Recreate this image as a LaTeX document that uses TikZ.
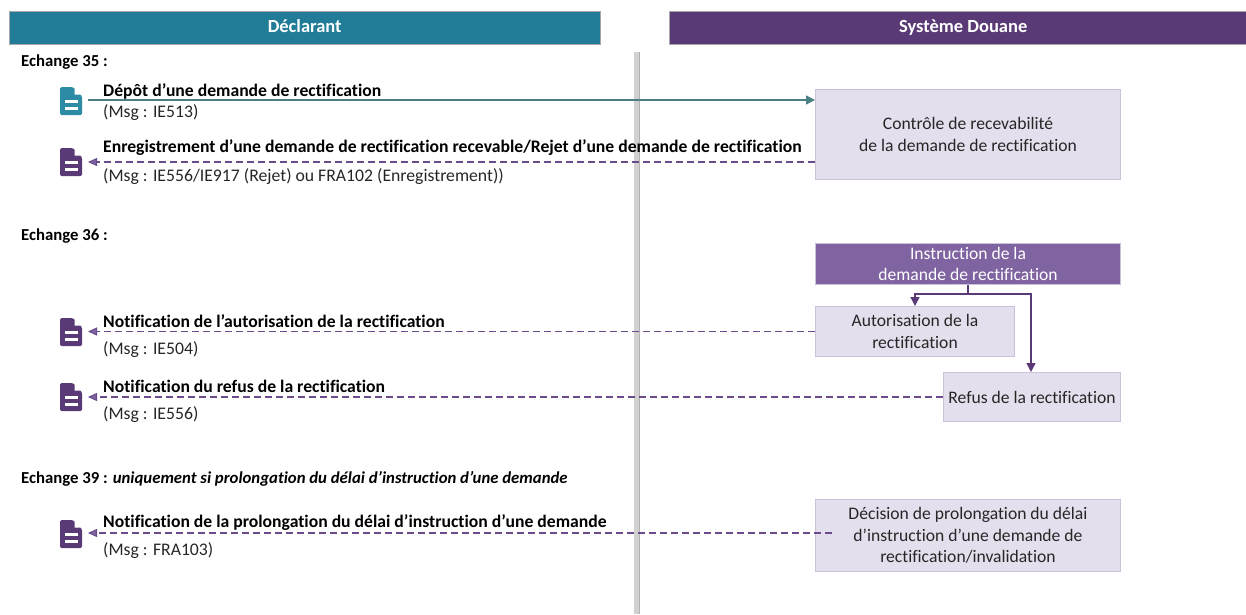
\documentclass[tikz,border=0pt]{standalone}
\usepackage{fontspec}
\setmainfont[Ligatures=NoCommon]{Carlito}
\usetikzlibrary{arrows.meta}
\definecolor{tealhead}{HTML}{217C98}
\definecolor{purplehead}{HTML}{5A3A76}
\definecolor{boxfill}{HTML}{E4DFEC}
\definecolor{boxline}{HTML}{CCC1DA}
\definecolor{instrfill}{HTML}{8064A2}
\definecolor{tealline}{HTML}{4A7F84}
\definecolor{dashline}{HTML}{6A4C8C}
\definecolor{iconteal}{HTML}{2E8BA6}
\newcommand{\docicon}[3]{%
  \fill [#3, rounded corners=1.5pt] (#1,#2) -- ++(13,0) -- ++(9,9) -- ++(0,19) -- ++(-22,0) -- cycle;
  \fill [white] (#1+14.5,#2+1) -- ++(0,6.5) -- ++(6.5,0) -- cycle;
  \fill [white] (#1+5,#2+13) rectangle ++(13,2.6);
  \fill [white] (#1+5,#2+20) rectangle ++(13,2.6);
}
\tikzset{
  headbox/.style={draw=black!35, line width=0.4pt, text=white, font=\fontsize{18.5}{20}\selectfont\bfseries, anchor=north west, inner sep=0pt, text height=12pt, text depth=3pt},
  sysbox/.style={draw=boxline, line width=1pt, fill=boxfill, align=center, anchor=north west, inner sep=0pt, font=\fontsize{17.6}{21.5}\selectfont, text=black!85},
  msgtitle/.style={anchor=west, inner sep=0pt, font=\fontsize{17.65}{20}\selectfont\bfseries},
  msgtext/.style={anchor=west, inner sep=0pt, font=\fontsize{17.7}{20}\selectfont, text=black!85},
  echange/.style={anchor=west, inner sep=0pt, font=\fontsize{16.75}{18}\selectfont\bfseries},
  sendline/.style={draw=tealline, line width=1.3pt, -{Triangle[length=9pt,width=9pt]}},
  backline/.style={draw=dashline, line width=1.1pt, dash pattern=on 7pt off 4pt, -{Triangle[length=9pt,width=8pt,fill=instrfill]}},
  flowline/.style={draw=purplehead, line width=1.3pt, -{Triangle[length=9pt,width=9pt]}}
}
\begin{document}
\begin{tikzpicture}[x=1pt,y=-1pt]
  \useasboundingbox (0,0) rectangle (1246,614);
  % bandeaux
  \node [headbox, fill=tealhead, minimum width=591pt, minimum height=33pt] (declarant) at (9,11) {Déclarant};
  \node [headbox, fill=purplehead, minimum width=577pt, minimum height=33pt] (douane) at (669,11) {\hspace*{11pt}Système Douane};
  \fill [black!18] (634,52) rectangle (640,614);
  \fill [black!30] (638.5,52) rectangle (640,614);
  % boites
  \node [sysbox, minimum width=305pt, minimum height=90pt] (recev) at (815,89) {Contrôle de recevabilité\\de la demande de rectification};
  \node [sysbox, fill=instrfill, text=white, minimum width=305pt, minimum height=41pt] (instr) at (815,243) {Instruction de la\\demande de rectification};
  \node [sysbox, minimum width=199pt, minimum height=50pt] (autor) at (815,306) {Autorisation de la\\rectification};
  \node [sysbox, minimum width=177pt, minimum height=49pt] (refus) at (943,372) {Refus de la rectification};
  \node [sysbox, minimum width=305pt, minimum height=72pt] (decis) at (815,499) {Décision de prolongation du délai\\d’instruction d’une demande de\\rectification/invalidation};
  % echange 35
  \node [echange] (ech35) at (21,62) {Echange 35 :};
  \docicon{60}{87}{iconteal}
  \docicon{60}{148}{purplehead}
  \coordinate (dep) at (88,100);
  \coordinate (enr) at (88,162);
  \draw [sendline] (dep) -- (dep -| recev.west);
  \draw [backline] (enr -| recev.west) -- (enr);
  \node [msgtitle] (t1) at (103,91) {Dépôt d’une demande de rectification};
  \node [msgtext] (m1) at (103,113) {(Msg : IE513)};
  \node [msgtitle] (t2) at (103,148) {Enregistrement d’une demande de rectification recevable/Rejet d’une demande de rectification};
  \node [msgtext] (m2) at (103,177) {(Msg : IE556/IE917 (Rejet) ou FRA102 (Enregistrement))};
  % echange 36
  \node [echange] (ech36) at (21,236) {Echange 36 :};
  \coordinate (split) at (968,294);
  \draw [draw=purplehead, line width=1.3pt] (split |- instr.south) -- (split);
  \draw [flowline] (split) -| (autor.north);
  \draw [flowline] (split) -| (1031,372);
  \docicon{60}{318}{purplehead}
  \docicon{60}{383}{purplehead}
  \coordinate (aut) at (88,331.5);
  \coordinate (ref) at (88,397);
  \draw [backline] (aut -| autor.west) -- (aut);
  \draw [backline] (refus.west) -- (ref);
  \node [msgtitle] (t3) at (103,321) {Notification de l’autorisation de la rectification};
  \node [msgtext] (m3) at (103,350) {(Msg : IE504)};
  \node [msgtitle] (t4) at (103,386) {Notification du refus de la rectification};
  \node [msgtext] (m4) at (103,415) {(Msg : IE556)};
  % echange 39
  \node [echange] (ech39) at (21,479) {Echange 39 : \textit{uniquement si prolongation du délai d’instruction d’une demande}};
  \docicon{60}{520}{purplehead}
  \coordinate (pro) at (88,533);
  \draw [backline] (832,533) -- (pro);
  \node [msgtitle] (t5) at (103,523) {Notification de la prolongation du délai d’instruction d’une demande};
  \node [msgtext] (m5) at (103,551) {(Msg : FRA103)};
\end{tikzpicture}
\end{document}
